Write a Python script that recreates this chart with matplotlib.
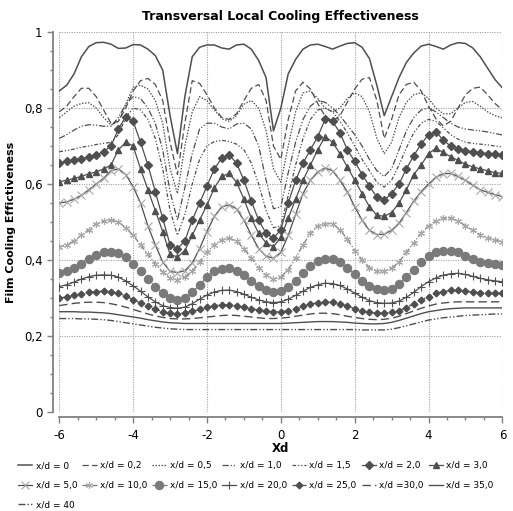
import numpy as np
import matplotlib.pyplot as plt
from matplotlib.ticker import MultipleLocator, FuncFormatter

# transversal position Xd, sampled every 0.2
xd = np.linspace(-6, 6, 61)

# film cooling effectiveness per downstream station x/d
eta_0 = [0.845, 0.860, 0.890, 0.935, 0.962, 0.972, 0.973, 0.968, 0.957, 0.958,
         0.967, 0.966, 0.955, 0.938, 0.900, 0.780, 0.680, 0.830, 0.935, 0.960,
         0.966, 0.966, 0.958, 0.955, 0.966, 0.968, 0.955, 0.925, 0.880, 0.740,
         0.800, 0.890, 0.928, 0.955, 0.966, 0.968, 0.962, 0.955, 0.963, 0.970,
         0.972, 0.960, 0.930, 0.860, 0.780, 0.830, 0.880, 0.920, 0.945, 0.963,
         0.968, 0.962, 0.955, 0.966, 0.972, 0.970, 0.958, 0.935, 0.905, 0.875,
         0.853]
eta_02 = [0.790, 0.805, 0.830, 0.852, 0.852, 0.830, 0.795, 0.760, 0.765, 0.800,
          0.845, 0.872, 0.878, 0.862, 0.820, 0.710, 0.625, 0.760, 0.872, 0.865,
          0.835, 0.800, 0.775, 0.770, 0.785, 0.820, 0.852, 0.862, 0.820, 0.700,
          0.665, 0.770, 0.845, 0.868, 0.850, 0.812, 0.778, 0.765, 0.780, 0.815,
          0.850, 0.876, 0.880, 0.820, 0.720, 0.770, 0.835, 0.862, 0.868, 0.845,
          0.805, 0.772, 0.753, 0.765, 0.800, 0.835, 0.852, 0.855, 0.835, 0.812,
          0.795]
eta_05 = [0.775, 0.790, 0.805, 0.812, 0.814, 0.800, 0.775, 0.755, 0.765, 0.810,
          0.855, 0.860, 0.850, 0.820, 0.760, 0.640, 0.575, 0.700, 0.790, 0.830,
          0.820, 0.795, 0.772, 0.765, 0.780, 0.810, 0.820, 0.800, 0.740, 0.640,
          0.605, 0.700, 0.790, 0.840, 0.845, 0.825, 0.800, 0.790, 0.800, 0.825,
          0.840, 0.830, 0.790, 0.720, 0.680, 0.710, 0.775, 0.815, 0.835, 0.840,
          0.825, 0.800, 0.785, 0.785, 0.800, 0.815, 0.817, 0.805, 0.790, 0.780,
          0.774]
eta_10 = [0.720, 0.730, 0.742, 0.752, 0.756, 0.755, 0.752, 0.752, 0.775, 0.810,
          0.830, 0.825, 0.800, 0.760, 0.690, 0.580, 0.505, 0.590, 0.680, 0.745,
          0.760, 0.760, 0.750, 0.745, 0.758, 0.760, 0.745, 0.700, 0.610, 0.535,
          0.540, 0.630, 0.710, 0.770, 0.805, 0.820, 0.815, 0.800, 0.780, 0.755,
          0.730, 0.700, 0.665, 0.635, 0.620, 0.640, 0.690, 0.740, 0.775, 0.795,
          0.800, 0.790, 0.775, 0.760, 0.750, 0.745, 0.742, 0.740, 0.737, 0.733,
          0.729]
eta_15 = [0.685, 0.688, 0.692, 0.697, 0.700, 0.704, 0.707, 0.710, 0.730, 0.775,
          0.800, 0.795, 0.770, 0.720, 0.640, 0.530, 0.465, 0.520, 0.600, 0.665,
          0.700, 0.712, 0.715, 0.712, 0.705, 0.690, 0.655, 0.600, 0.530, 0.485,
          0.490, 0.570, 0.650, 0.720, 0.770, 0.795, 0.800, 0.790, 0.765, 0.735,
          0.700, 0.665, 0.635, 0.605, 0.592, 0.610, 0.650, 0.695, 0.735, 0.760,
          0.770, 0.765, 0.748, 0.730, 0.718, 0.710, 0.707, 0.705, 0.703, 0.700,
          0.698]
eta_20 = [0.655, 0.660, 0.663, 0.667, 0.672, 0.677, 0.685, 0.700, 0.745, 0.777,
          0.765, 0.710, 0.650, 0.580, 0.510, 0.440, 0.430, 0.450, 0.505, 0.550,
          0.595, 0.640, 0.668, 0.677, 0.655, 0.610, 0.555, 0.505, 0.470, 0.457,
          0.480, 0.550, 0.610, 0.655, 0.690, 0.725, 0.770, 0.765, 0.735, 0.690,
          0.660, 0.625, 0.595, 0.565, 0.558, 0.575, 0.600, 0.640, 0.675, 0.705,
          0.730, 0.738, 0.715, 0.700, 0.692, 0.688, 0.685, 0.682, 0.680, 0.678,
          0.676]
eta_30 = [0.606, 0.610, 0.615, 0.620, 0.627, 0.632, 0.640, 0.650, 0.690, 0.710,
          0.700, 0.640, 0.585, 0.530, 0.475, 0.415, 0.408, 0.425, 0.465, 0.505,
          0.545, 0.590, 0.620, 0.628, 0.605, 0.560, 0.510, 0.470, 0.445, 0.435,
          0.460, 0.510, 0.560, 0.610, 0.650, 0.690, 0.725, 0.710, 0.680, 0.645,
          0.610, 0.575, 0.540, 0.518, 0.515, 0.525, 0.550, 0.585, 0.625, 0.650,
          0.680, 0.694, 0.683, 0.672, 0.662, 0.652, 0.645, 0.640, 0.635, 0.630,
          0.628]
eta_50 = [0.550, 0.553, 0.560, 0.570, 0.585, 0.600, 0.615, 0.635, 0.640, 0.625,
          0.593, 0.550, 0.490, 0.440, 0.395, 0.370, 0.367, 0.372, 0.392, 0.430,
          0.475, 0.515, 0.540, 0.545, 0.535, 0.505, 0.465, 0.430, 0.410, 0.405,
          0.420, 0.465, 0.520, 0.575, 0.610, 0.632, 0.642, 0.635, 0.610, 0.580,
          0.540, 0.505, 0.478, 0.467, 0.468, 0.478, 0.497, 0.525, 0.555, 0.580,
          0.600, 0.618, 0.627, 0.628, 0.620, 0.610, 0.597, 0.585, 0.578, 0.572,
          0.567]
eta_100 = [0.435, 0.440, 0.450, 0.465, 0.480, 0.495, 0.503, 0.505, 0.500, 0.485,
           0.465, 0.440, 0.415, 0.390, 0.368, 0.352, 0.348, 0.355, 0.370, 0.395,
           0.420, 0.440, 0.453, 0.457, 0.450, 0.430, 0.405, 0.380, 0.360, 0.350,
           0.355, 0.375, 0.405, 0.440, 0.470, 0.490, 0.496, 0.495, 0.480, 0.455,
           0.425, 0.400, 0.380, 0.370, 0.370, 0.378, 0.395, 0.420, 0.445, 0.470,
           0.490, 0.503, 0.510, 0.510, 0.503, 0.490, 0.478, 0.467, 0.458, 0.452,
           0.448]
eta_150 = [0.365, 0.370, 0.378, 0.390, 0.403, 0.413, 0.420, 0.422, 0.418, 0.408,
           0.390, 0.370, 0.350, 0.330, 0.312, 0.300, 0.296, 0.300, 0.315, 0.335,
           0.355, 0.370, 0.377, 0.378, 0.372, 0.360, 0.345, 0.332, 0.322, 0.317,
           0.318, 0.328, 0.345, 0.365, 0.385, 0.398, 0.404, 0.403, 0.395, 0.380,
           0.362, 0.345, 0.332, 0.323, 0.321, 0.325, 0.337, 0.355, 0.375, 0.395,
           0.410, 0.420, 0.425, 0.425, 0.420, 0.410, 0.402, 0.396, 0.392, 0.389,
           0.387]
eta_200 = [0.330, 0.335, 0.342, 0.350, 0.356, 0.360, 0.361, 0.360, 0.355, 0.345,
           0.332, 0.318, 0.303, 0.290, 0.280, 0.275, 0.273, 0.276, 0.285, 0.297,
           0.308, 0.316, 0.320, 0.321, 0.317, 0.310, 0.302, 0.295, 0.290, 0.288,
           0.290, 0.297, 0.307, 0.318, 0.328, 0.335, 0.339, 0.338, 0.333, 0.324,
           0.313, 0.302, 0.293, 0.288, 0.286, 0.287, 0.292, 0.302, 0.315, 0.330,
           0.343, 0.353, 0.360, 0.364, 0.365, 0.362, 0.357, 0.352, 0.348, 0.345,
           0.343]
eta_250 = [0.300, 0.303, 0.307, 0.311, 0.315, 0.317, 0.318, 0.317, 0.313, 0.305,
           0.296, 0.287, 0.278, 0.270, 0.264, 0.260, 0.259, 0.261, 0.265, 0.270,
           0.276, 0.280, 0.282, 0.282, 0.280, 0.276, 0.272, 0.268, 0.265, 0.263,
           0.264, 0.267, 0.272, 0.278, 0.284, 0.288, 0.290, 0.289, 0.285, 0.279,
           0.272, 0.266, 0.262, 0.260, 0.260, 0.262, 0.267, 0.275, 0.285, 0.295,
           0.304, 0.312, 0.317, 0.320, 0.320, 0.318, 0.316, 0.314, 0.313, 0.312,
           0.312]
eta_300 = [0.280, 0.283, 0.286, 0.288, 0.289, 0.289, 0.288, 0.285, 0.281, 0.276,
           0.270, 0.264, 0.258, 0.253, 0.249, 0.246, 0.245, 0.245, 0.246, 0.248,
           0.250, 0.252, 0.254, 0.255, 0.254, 0.252, 0.250, 0.248, 0.246, 0.246,
           0.247, 0.249, 0.252, 0.255, 0.258, 0.260, 0.260, 0.259, 0.256, 0.252,
           0.249, 0.246, 0.244, 0.243, 0.244, 0.247, 0.252, 0.259, 0.266, 0.273,
           0.279, 0.284, 0.287, 0.289, 0.290, 0.290, 0.290, 0.290, 0.290, 0.290,
           0.290]
eta_350 = [0.264, 0.264, 0.264, 0.263, 0.263, 0.262, 0.261, 0.259, 0.256, 0.253,
           0.250, 0.247, 0.243, 0.240, 0.237, 0.235, 0.234, 0.233, 0.233, 0.233,
           0.233, 0.233, 0.233, 0.233, 0.233, 0.233, 0.233, 0.233, 0.233, 0.233,
           0.233, 0.234, 0.235, 0.236, 0.237, 0.238, 0.238, 0.238, 0.237, 0.236,
           0.234, 0.233, 0.232, 0.232, 0.233, 0.236, 0.241, 0.247, 0.253, 0.259,
           0.264, 0.267, 0.270, 0.272, 0.273, 0.274, 0.274, 0.274, 0.274, 0.274,
           0.274]
eta_400 = [0.246, 0.246, 0.246, 0.245, 0.245, 0.244, 0.243, 0.241, 0.238, 0.235,
           0.232, 0.229, 0.226, 0.223, 0.221, 0.219, 0.218, 0.217, 0.217, 0.217,
           0.217, 0.217, 0.217, 0.217, 0.217, 0.217, 0.217, 0.217, 0.217, 0.217,
           0.217, 0.217, 0.217, 0.217, 0.217, 0.217, 0.217, 0.217, 0.217, 0.217,
           0.217, 0.216, 0.216, 0.216, 0.216, 0.218, 0.222, 0.227, 0.232, 0.237,
           0.242, 0.245, 0.248, 0.250, 0.252, 0.254, 0.255, 0.256, 0.257, 0.258,
           0.258]

labels = ["x/d = 0", "x/d = 0,2", "x/d = 0,5", "x/d = 1,0", "x/d = 1,5",
          "x/d = 2,0", "x/d = 3,0", "x/d = 5,0", "x/d = 10,0", "x/d = 15,0",
          "x/d = 20,0", "x/d = 25,0", "x/d =30,0", "x/d = 35,0", "x/d = 40"]

dark = "#4f4f4f"
light = "#a8a8a8"
mid = "#7a7a7a"

# (data, style kwargs) in legend order
series = [
    (eta_0, dict(color=dark, lw=1.1, ls="-")),
    (eta_02, dict(color=dark, lw=0.9, ls=(0, (5, 2.5)))),
    (eta_05, dict(color=dark, lw=0.9, ls=(0, (1.2, 1.2)))),
    (eta_10, dict(color=dark, lw=0.9, ls=(0, (5, 1.5, 1, 1.5, 1, 1.5)))),
    (eta_15, dict(color=dark, lw=0.9, ls=(0, (3, 1.5, 1, 1.5, 1, 1.5)))),
    (eta_20, dict(color=dark, lw=0.9, ls="-", marker="D", ms=3.6, mec=dark, mfc=dark)),
    (eta_30, dict(color=dark, lw=0.9, ls="-", marker="^", ms=4.5, mec=dark, mfc=dark)),
    (eta_50, dict(color=dark, lw=0.9, ls="-", marker="x", ms=5.5, mec=light, mew=0.8)),
    (eta_100, dict(color=mid, lw=0.9, ls=(0, (4, 1.5, 1, 1.5)), marker=(6, 2, 0), ms=5,
                   mec=light, mew=0.8)),
    (eta_150, dict(color=mid, lw=0.9, ls=(0, (4, 1.5, 1, 1.5)), marker="o", ms=5.8,
                   mec=mid, mfc=mid)),
    (eta_200, dict(color=dark, lw=0.9, ls="-", marker="+", ms=6, mec=dark, mew=0.8)),
    (eta_250, dict(color=dark, lw=0.9, ls=(0, (4, 1.5, 1, 1.5)), marker="D", ms=3.4,
                   mec=dark, mfc=dark)),
    (eta_300, dict(color=dark, lw=1.0, ls=(0, (6, 3)))),
    (eta_350, dict(color=dark, lw=1.0, ls="-")),
    (eta_400, dict(color=dark, lw=1.0, ls=(0, (5, 1.5, 1, 1.5, 1, 1.5)))),
]

fig = plt.figure(figsize=(5.13, 5.11), dpi=100)
ax = fig.add_axes([0.1156, 0.1937, 0.8637, 0.7436])

handles = []
for (vals, kw), lab in zip(series, labels):
    h, = ax.plot(xd, vals, label=lab, **kw)
    handles.append(h)

ax.set_xlim(-6, 6)
ax.set_ylim(0, 1)
ax.xaxis.set_major_locator(MultipleLocator(2))
ax.xaxis.set_minor_locator(MultipleLocator(0.5))
ax.yaxis.set_major_locator(MultipleLocator(0.2))
ax.yaxis.set_minor_locator(MultipleLocator(0.05))
ax.yaxis.set_major_formatter(FuncFormatter(lambda v, p: ("%g" % round(v, 1)).replace(".", ",")))
ax.xaxis.set_major_formatter(FuncFormatter(lambda v, p: "%d" % round(v)))

ax.grid(True, which="major", color="#a0a0a0", lw=0.8, ls=(0, (1, 1.2)))
for s in ["top", "right"]:
    ax.spines[s].set_visible(False)
ax.spines["left"].set_position(("outward", 4.5))
ax.spines["bottom"].set_position(("outward", 3.5))
for s in ["left", "bottom"]:
    ax.spines[s].set_color("#808080")
    ax.spines[s].set_linewidth(1.3)
ax.tick_params(which="major", length=4, width=1.0, color="#808080", labelsize=8.5,
               labelcolor="black")
ax.tick_params(axis="x", which="major", pad=5)
ax.tick_params(which="minor", length=2.5, width=1.0, color="#808080")

ax.set_title("Transversal Local Cooling Effectiveness", fontsize=9,
             fontweight="bold", pad=9)
ax.set_xlabel("Xd", fontsize=8.5, fontweight="bold", labelpad=0)
ax.set_ylabel("Film Cooling Effictiveness", fontsize=8, fontweight="bold", labelpad=6)

# legend is row-major in the original; matplotlib fills columns first
order = [0, 7, 14, 1, 8, 2, 9, 3, 10, 4, 11, 5, 12, 6, 13]
fig.legend([handles[i] for i in order], [labels[i] for i in order],
           loc="upper left", bbox_to_anchor=(0.035, 0.097), ncol=7, frameon=False,
           fontsize=6.5, handlelength=1.6, handletextpad=0.35, columnspacing=0.55,
           labelspacing=1.15, borderpad=0, borderaxespad=0)

fig.savefig("out.png", dpi=100)
